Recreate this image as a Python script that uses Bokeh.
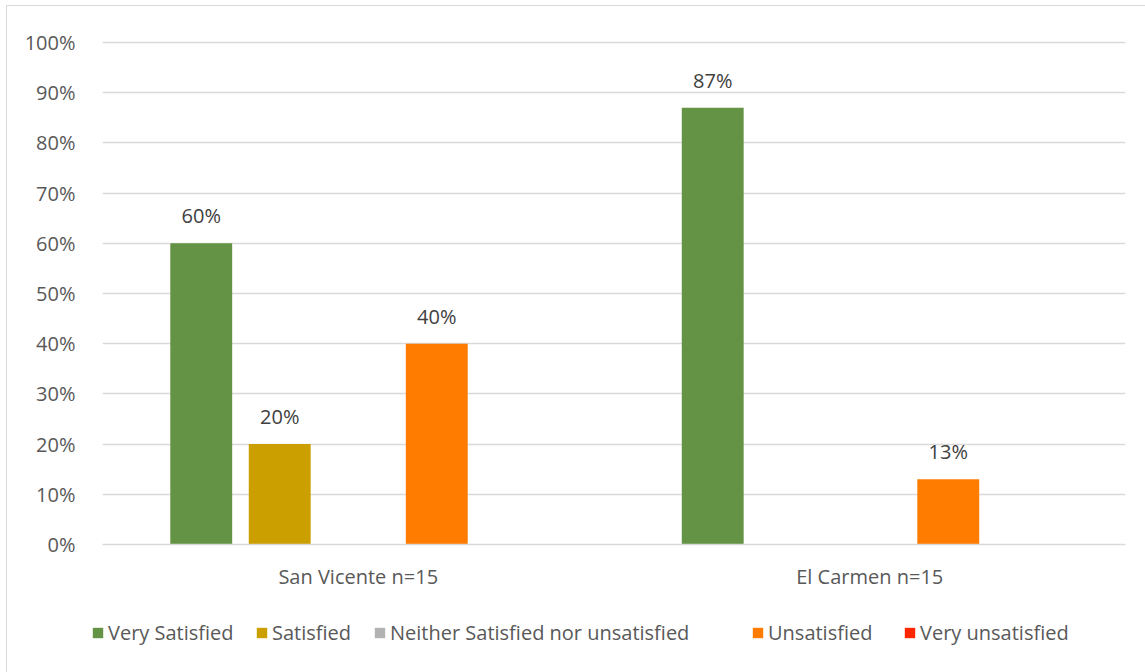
from bokeh.plotting import figure
from bokeh.layouts import column
from bokeh.models import (ColumnDataSource, Legend, LegendItem, PrintfTickFormatter,
                          FixedTicker, FactorRange, Range1d)
from bokeh.transform import dodge
from bokeh.core.properties import value
from bokeh.embed import file_html
from bokeh.resources import INLINE

# Survey satisfaction by community (share of respondents, %)
communities = ["San Vicente n=15", "El Carmen n=15"]
series_names = ["Very Satisfied", "Satisfied", "Neither Satisfied nor unsatisfied",
                "Unsatisfied", "Very unsatisfied"]
very_satisfied = [60, 87]
satisfied = [20, 0]
neither = [0, 0]
unsatisfied = [40, 13]
very_unsatisfied = [0, 0]
series_colors = ["#659345", "#CC9F00", "#B2B2B2", "#FF7C00", "#FF2600"]
y_ticks = [0, 10, 20, 30, 40, 50, 60, 70, 80, 90, 100]

series_values = [very_satisfied, satisfied, neither, unsatisfied, very_unsatisfied]

FONT = "Open Sans"
TEXT_COLOR = "#595959"
GRID = "#D9D9D9"

# ---- main bar chart -------------------------------------------------------
p = figure(x_range=communities, y_range=(0, 100.4), width=1138, height=594,
           output_backend="svg", toolbar_location=None,
           min_border_left=95, min_border_right=20, min_border_top=34,
           min_border_bottom=56)

pitch = 0.1535
bar_w = 0.121
source = ColumnDataSource(dict(cat=communities,
                               **{f"s{i}": v for i, v in enumerate(series_values)}))

for i, color in enumerate(series_colors):
    off = (i - 2) * pitch
    p.vbar(x=dodge("cat", off, range=p.x_range), top=f"s{i}", width=bar_w,
           source=source, fill_color=color, line_color=None)

    # value labels for the non-empty bars
    cats = [c for c, v in zip(communities, series_values[i]) if v > 0]
    vals = [v for v in series_values[i] if v > 0]
    if vals:
        lab_src = ColumnDataSource(dict(cat=cats, val=vals,
                                        txt=[f"{v}%" for v in vals]))
        p.text(x=dodge("cat", off, range=p.x_range), y="val", text="txt",
               source=lab_src, text_align="center", text_baseline="bottom",
               y_offset=-14, text_font=value(FONT), text_font_size="20px",
               text_color="#404040")

p.yaxis.ticker = FixedTicker(ticks=y_ticks)
p.yaxis.formatter = PrintfTickFormatter(format="%d%%")
p.yaxis.axis_line_color = None
p.yaxis.major_tick_line_color = None
p.yaxis.minor_tick_line_color = None
p.yaxis.major_label_standoff = 21
p.yaxis.major_label_text_font = FONT
p.yaxis.major_label_text_font_size = "20px"
p.yaxis.major_label_text_color = TEXT_COLOR

p.xaxis.axis_line_color = GRID
p.xaxis.axis_line_width = 1.5
p.xaxis.major_tick_line_color = None
p.xaxis.minor_tick_line_color = None
p.xaxis.major_label_standoff = 12
p.xaxis.major_label_text_font = FONT
p.xaxis.major_label_text_font_size = "20px"
p.xaxis.major_label_text_color = TEXT_COLOR

p.xgrid.grid_line_color = None
p.ygrid.grid_line_color = GRID
p.ygrid.grid_line_width = 1.5
p.outline_line_color = None
p.x_range.range_padding = 0

# ---- legend strip ---------------------------------------------------------
# the series bars lie far below this strip's visible y-range, so only the
# legend swatches and labels show
leg = figure(width=1138, height=72, x_range=FactorRange(*communities),
             y_range=Range1d(1000, 1001),
             output_backend="svg", toolbar_location=None,
             x_axis_location=None, y_axis_location=None,
             min_border=0)
leg.grid.grid_line_color = None
leg.outline_line_color = None
if "frame_align" in leg.properties():
    leg.frame_align = False
    p.frame_align = False

legend_x = [84, 248, 366, 744, 896]
for i, (name, color, lx) in enumerate(zip(series_names, series_colors, legend_x)):
    r = leg.vbar(x="cat", top=f"s{i}", width=0.1, source=source,
                 fill_color=color, line_color=None)
    leg.add_layout(Legend(items=[LegendItem(label=name, renderers=[r])],
                          location=(lx, 26), orientation="horizontal",
                          glyph_width=13, glyph_height=13, label_standoff=4,
                          label_text_font=FONT, label_text_font_size="20px",
                          label_text_color=TEXT_COLOR, border_line_color=None,
                          background_fill_alpha=0, padding=0, margin=0))

layout = column(p, leg, spacing=0)
layout.styles = {"margin-left": "6px", "margin-top": "5px",
                 "border-left": "1px solid #D9D9D9",
                 "border-top": "1px solid #D9D9D9"}

open("out.html", "w").write(file_html(layout, INLINE))
